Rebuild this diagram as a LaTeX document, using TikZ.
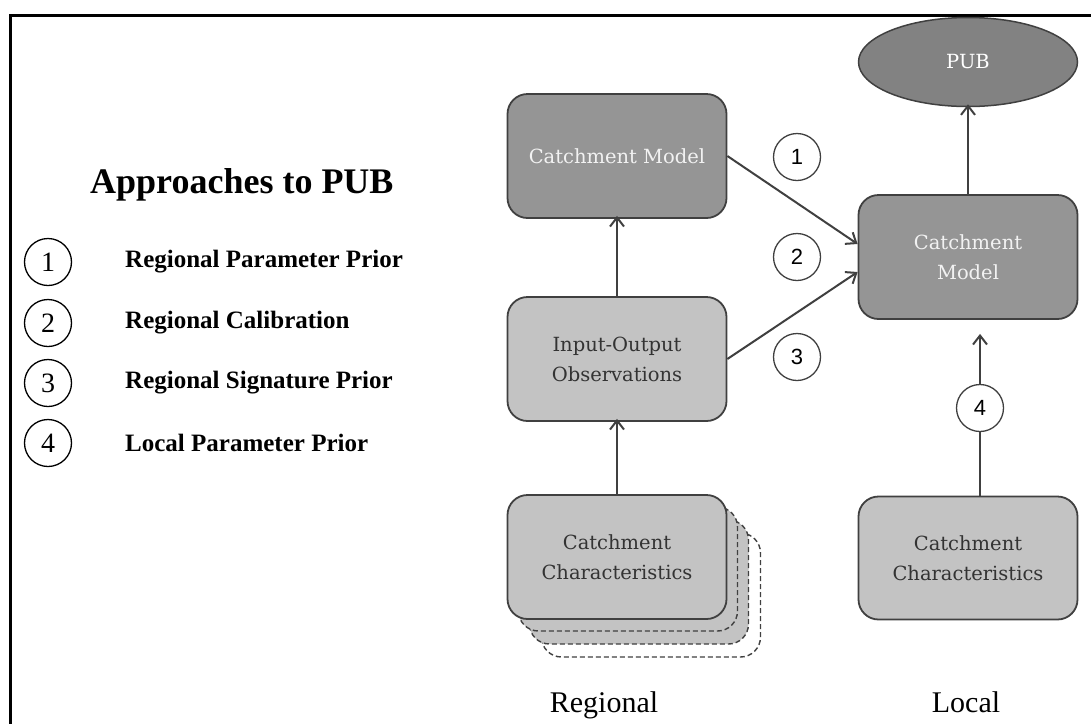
\documentclass[tikz,border=0pt]{standalone}
\usepackage{fontspec}
\setmainfont{Liberation Serif}
\newfontfamily\cajaFont{DejaVu Serif}
\newfontfamily\numFont{Liberation Sans}
\usepackage{tikz}
\usetikzlibrary{shapes.geometric, arrows.meta, positioning}
\definecolor{grisOscuro}{HTML}{959595}
\definecolor{grisClaro}{HTML}{C3C3C3}
\definecolor{grisPub}{HTML}{828282}
\definecolor{borde}{HTML}{404040}

\begin{document}
\begin{tikzpicture}[
        x=1pt, y=-1pt,
        caja/.style={draw=borde, line width=1.8pt, rounded corners=20pt,
            minimum width=219pt, minimum height=124pt, align=center,
            font=\cajaFont\fontsize{19.5}{30}\selectfont},
        oscura/.style={caja, fill=grisOscuro, text=white!95!black},
        clara/.style={caja, fill=grisClaro, text=black!80},
        copia/.style={caja, dashed, line width=1.4pt, dash pattern=on 5pt off 3pt},
        num/.style={circle, draw=borde, fill=white, line width=1.3pt, minimum size=47pt,
            inner sep=0pt, font=\numFont\fontsize{22}{22}\selectfont},
        numIzq/.style={circle, draw=black, line width=1.3pt, minimum size=47pt,
            inner sep=0pt, font=\fontsize{28}{28}\selectfont},
        etiq/.style={anchor=west, inner sep=0pt, font=\bfseries\fontsize{25}{25}\selectfont},
        rel/.style={-{Straight Barb[length=9pt, width=14pt]}, line width=2pt, draw=borde}
    ]
        \useasboundingbox (0,0) rectangle (1091,724);
        \draw[line width=3pt] (1091,15) -- (10,15) -- (10,724);

        % leyenda
        \node[anchor=base west, inner sep=0pt, font=\bfseries\fontsize{36}{36}\selectfont] (titulo) at (90,193) {Approaches to PUB};
        \node[numIzq] (n1) at (48,262) {1};
        \node[numIzq] (n2) at (48,323) {2};
        \node[numIzq] (n3) at (48,383) {3};
        \node[numIzq] (n4) at (48,443) {4};
        \node[etiq] (e1) at (125,262) {Regional Parameter Prior};
        \node[etiq] (e2) at (125,323) {Regional Calibration};
        \node[etiq] (e3) at (125,383) {Regional Signature Prior};
        \node[etiq] (e4) at (125,443) {Local Parameter Prior};

        % columna regional
        \node[copia, fill=white] (copia3) at (651,595) {};
        \node[copia, fill=grisClaro] (copia2) at (639,582) {};
        \node[copia, fill=grisClaro] (copia1) at (628,569) {};
        \node[clara] (rchar) at (617,557) {Catchment\\Characteristics};
        \node[clara] (obs) at (617,359) {Input-Output\\Observations};
        \node[oscura] (rmodel) at (617,156) {Catchment Model};

        % columna local
        \node[ellipse, draw=borde, line width=1.5pt, fill=grisPub, minimum width=219pt, minimum height=89pt,
            text=white, font=\cajaFont\fontsize{19.5}{20}\selectfont] (pub) at (968,62) {PUB};
        \node[oscura] (lmodel) at (968,257) {Catchment\\Model};
        \node[clara, minimum height=123pt] (lchar) at (968,558) {Catchment\\Characteristics};

        \node[num] (c1) at (797,157) {1};
        \node[num] (c2) at (797,257) {2};
        \node[num] (c3) at (797,357) {3};
        \node[num] (c4) at (980,408) {4};

        \draw[rel, shorten >=-3pt] (rchar) -- (obs);
        \draw[rel, shorten >=-3pt] (obs) -- (rmodel);
        \draw[rel] (rmodel.east) -- ([yshift=13pt]lmodel.west);
        \draw[rel] (obs.east) -- ([yshift=-15pt]lmodel.west);
        \draw[rel, shorten >=-3pt] (lmodel) -- (pub);
        \draw[line width=2pt, borde] (lchar.north -| c4) -- (c4.south);
        \draw[rel, shorten >=14pt] (c4.north) -- (c4 |- lmodel.south);
        \node[anchor=base, font=\fontsize{30}{30}\selectfont] (regional) at (604,712) {Regional};
        \node[anchor=base, font=\fontsize{30}{30}\selectfont] (local) at (966,712) {Local};
    \end{tikzpicture}
\end{document}
